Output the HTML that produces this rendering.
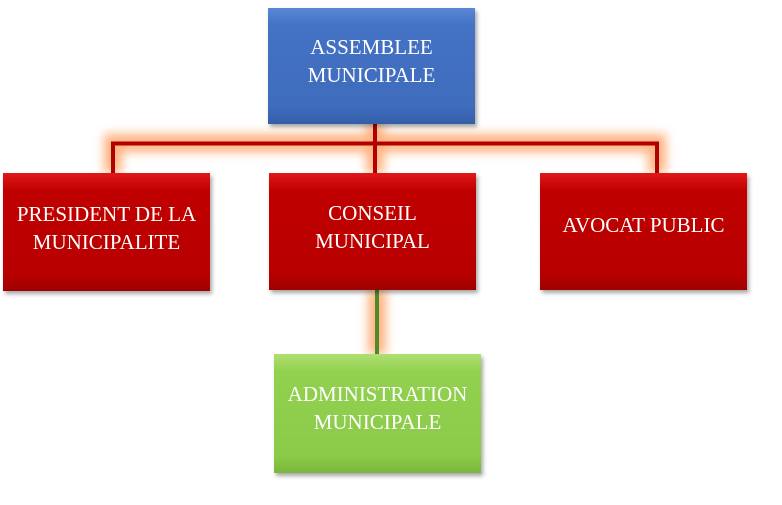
<!DOCTYPE html>
<html><head><style>
body{margin:0;width:782px;height:505px;background:#fff;position:relative;overflow:hidden;font-family:"Liberation Serif",serif;}
.b{position:absolute;display:flex;align-items:center;justify-content:center;text-align:center;color:#fff;font-size:21px;line-height:28px;box-shadow:2px 3px 4px rgba(0,0,0,0.35);box-sizing:border-box;}
.r{background:linear-gradient(#e01818,#c00000 15%,#b80000 85%,#a00000);}
.bl{background:linear-gradient(#5a88d6,#4472c4 15%,#3f6cbd 85%,#345ea8);}
.g{background:linear-gradient(#b0e070,#92d050 15%,#8cca4a 85%,#7ab83c);}
svg{position:absolute;left:0;top:0}
</style></head><body>
<svg width="782" height="505">
<defs><filter id="gl" x="-20%" y="-50%" width="140%" height="200%"><feGaussianBlur stdDeviation="5"/></filter></defs>
<g stroke="#ffa060" stroke-width="18" fill="none" filter="url(#gl)" opacity="0.8">
<path d="M113 173V143H657V173M375 124V173"/><path d="M377 290V354"/>
</g>
<g stroke="#b00000" stroke-width="4" fill="none">
<path d="M113 173V143.5H657V173M375 124V173"/>
</g>
<path d="M377 290V354" stroke="#4f8a2a" stroke-width="4"/>
</svg>
<div class="b bl" style="left:268px;top:8px;width:207px;height:116px;padding-bottom:11px">ASSEMBLEE<br>MUNICIPALE</div>
<div class="b r" style="left:3px;top:173px;width:207px;height:118px;padding-bottom:8px">PRESIDENT DE LA<br>MUNICIPALITE</div>
<div class="b r" style="left:269px;top:173px;width:207px;height:117px;padding-bottom:10px">CONSEIL<br>MUNICIPAL</div>
<div class="b r" style="left:540px;top:173px;width:207px;height:117px;padding-bottom:13px">AVOCAT PUBLIC</div>
<div class="b g" style="left:274px;top:354px;width:207px;height:119px;padding-bottom:11px">ADMINISTRATION<br>MUNICIPALE</div>
</body></html>
